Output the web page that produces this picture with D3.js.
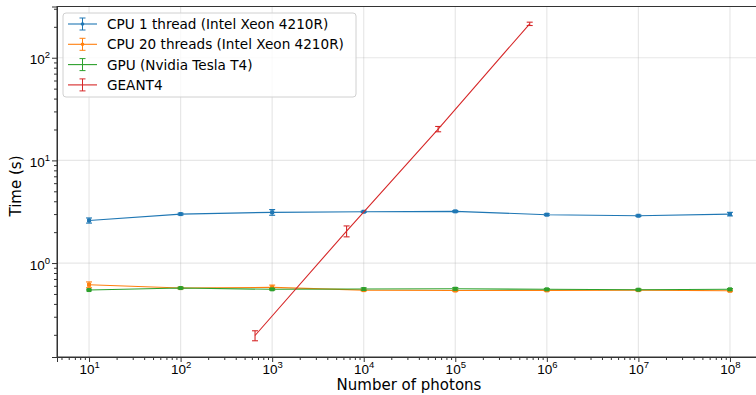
<!doctype html>
<html>
<head>
<script src="https://cdn.jsdelivr.net/npm/d3@7"></script>
<style>
  body { margin: 0; background: white; }
  svg { font-family: 'DejaVu Sans', sans-serif; }
  .grid line { stroke: #b0b0b0; stroke-opacity: 0.3; }
</style>
</head>
<body>
<script>
// photon counts
var photons = [1e1, 1e2, 1e3, 1e4, 1e5, 1e6, 1e7, 1e8];
var geantPhotons = [650, 6500, 65000, 650000];

var cpu1 = [2.6, 3.0, 3.12, 3.16, 3.19, 2.96, 2.89, 3.0];
var cpu1Err = [0.15, 0.06, 0.2, 0.05, 0.06, 0.06, 0.05, 0.12];
var cpu20 = [0.615, 0.571, 0.58, 0.545, 0.54, 0.542, 0.545, 0.537];
var cpu20Err = [0.04, 0.01, 0.03, 0.01, 0.01, 0.01, 0.01, 0.01];
var gpu = [0.546, 0.571, 0.555, 0.558, 0.562, 0.555, 0.55, 0.555];
var gpuErr = [0.01, 0.01, 0.01, 0.015, 0.015, 0.01, 0.01, 0.01];
var geant = [0.197, 2.05, 20.2, 214];
var geantErr = [0.022, 0.25, 1.2, 8];

var series = [
  {name: "CPU 1 thread (Intel Xeon 4210R)", color: "#1f77b4", x: photons, y: cpu1, e: cpu1Err, marker: true},
  {name: "CPU 20 threads (Intel Xeon 4210R)", color: "#ff7f0e", x: photons, y: cpu20, e: cpu20Err, marker: true},
  {name: "GPU (Nvidia Tesla T4)", color: "#2ca02c", x: photons, y: gpu, e: gpuErr, marker: true},
  {name: "GEANT4", color: "#d62728", x: geantPhotons, y: geant, e: geantErr, marker: false}
];

var width = 756, height = 395;
var pLeft = 57, pRight = 762, pTop = 6.5, pBottom = 357;

var svg = d3.select("body").append("svg")
  .attr("width", width).attr("height", height);

var x = d3.scaleLog().domain([Math.pow(10, 0.65), Math.pow(10, 8.35)]).range([pLeft, pRight]);
var y = d3.scaleLog().domain([Math.pow(10, -0.915), Math.pow(10, 2.499)]).range([pBottom, pTop]);

var xMajor = d3.range(1, 9).map(function(p) { return Math.pow(10, p); });
var yMajor = [1, 10, 100];

// grid
var grid = svg.append("g").attr("class", "grid");
grid.selectAll("line.gx").data(xMajor).enter().append("line")
  .attr("x1", function(d) { return x(d); }).attr("x2", function(d) { return x(d); })
  .attr("y1", pTop).attr("y2", pBottom).attr("stroke-width", 1.2);
grid.selectAll("line.gy").data(yMajor).enter().append("line")
  .attr("y1", function(d) { return y(d); }).attr("y2", function(d) { return y(d); })
  .attr("x1", pLeft).attr("x2", pRight).attr("stroke-width", 1.2);

// minor ticks
var xMinor = [];
for (var p = 0; p <= 8; p++) for (var m = 2; m <= 9; m++) {
  var v = m * Math.pow(10, p);
  if (x(v) > pLeft && x(v) < pRight) xMinor.push(v);
}
var yMinor = [];
for (var p = -1; p <= 2; p++) for (var m = 2; m <= 9; m++) {
  var v = m * Math.pow(10, p);
  if (y(v) < pBottom && y(v) > pTop) yMinor.push(v);
}

function supLabel(sel, exp) {
  sel.text("10").append("tspan").attr("dy", -6).attr("font-size", 9.5).text(exp);
}

var xAxis = svg.append("g").attr("transform", "translate(0," + pBottom + ")");
xAxis.call(d3.axisBottom(x).tickValues(xMajor).tickSize(5).tickFormat(""));
xAxis.selectAll(".tick").each(function(d) {
  d3.select(this).select("text").attr("y", 0).attr("dy", 0)
    .attr("transform", "translate(0,17)")
    .attr("font-size", 13.5).attr("fill", "black")
    .call(supLabel, Math.round(Math.log10(d)));
});
svg.append("g").attr("transform", "translate(0," + pBottom + ")")
  .call(d3.axisBottom(x).tickValues(xMinor).tickSize(3).tickFormat(""))
  .select(".domain").remove();

var yAxis = svg.append("g").attr("transform", "translate(" + pLeft + ",0)");
yAxis.call(d3.axisLeft(y).tickValues(yMajor).tickSize(5).tickFormat(""));
yAxis.selectAll(".tick").each(function(d) {
  d3.select(this).select("text").attr("x", -7).attr("dy", "0.45em")
    .attr("font-size", 13.5).attr("fill", "black")
    .call(supLabel, Math.round(Math.log10(d)));
});
svg.append("g").attr("transform", "translate(" + pLeft + ",0)")
  .call(d3.axisLeft(y).tickValues(yMinor).tickSize(3).tickFormat(""))
  .select(".domain").remove();

svg.selectAll(".domain").attr("stroke", "#333");
svg.selectAll(".tick line").attr("stroke", "#333");

// frame
svg.append("rect").attr("x", pLeft).attr("y", pTop)
  .attr("width", pRight - pLeft).attr("height", pBottom - pTop)
  .attr("fill", "none").attr("stroke", "#333").attr("stroke-width", 1);

// data
var line = d3.line().x(function(d) { return x(d[0]); }).y(function(d) { return y(d[1]); });

series.forEach(function(s) {
  var pts = s.x.map(function(v, i) { return [v, s.y[i], s.e[i]]; });
  var g = svg.append("g");
  g.append("path").datum(pts).attr("d", line)
    .attr("fill", "none").attr("stroke", s.color).attr("stroke-width", 1.1);
  var eb = g.selectAll("g.eb").data(pts).enter().append("g");
  eb.append("line")
    .attr("x1", function(d) { return x(d[0]); }).attr("x2", function(d) { return x(d[0]); })
    .attr("y1", function(d) { return y(d[1] - d[2]); }).attr("y2", function(d) { return y(d[1] + d[2]); })
    .attr("stroke", s.color).attr("stroke-width", 1.1);
  [-1, 1].forEach(function(sign) {
    eb.append("line")
      .attr("x1", function(d) { return x(d[0]) - 3; }).attr("x2", function(d) { return x(d[0]) + 3; })
      .attr("y1", function(d) { return y(d[1] + sign * d[2]); })
      .attr("y2", function(d) { return y(d[1] + sign * d[2]); })
      .attr("stroke", s.color).attr("stroke-width", 1.1);
  });
  if (s.marker) {
    eb.append("rect")
      .attr("x", function(d) { return x(d[0]) - 2; }).attr("y", function(d) { return y(d[1]) - 2; })
      .attr("width", 4).attr("height", 4).attr("fill", s.color);
  }
});

// legend
var lg = svg.append("g").attr("transform", "translate(63,13)");
lg.append("rect").attr("width", 293).attr("height", 84).attr("rx", 3)
  .attr("fill", "white").attr("fill-opacity", 0.8).attr("stroke", "#d0d0d0");
series.forEach(function(s, i) {
  var cy = 11 + i * 20.3;
  var it = lg.append("g").attr("transform", "translate(0," + cy + ")");
  it.append("line").attr("x1", 5).attr("x2", 34).attr("stroke", s.color).attr("stroke-width", 1.1);
  it.append("line").attr("x1", 19.5).attr("x2", 19.5).attr("y1", -6).attr("y2", 6).attr("stroke", s.color);
  it.append("line").attr("x1", 16.5).attr("x2", 22.5).attr("y1", -6).attr("y2", -6).attr("stroke", s.color);
  it.append("line").attr("x1", 16.5).attr("x2", 22.5).attr("y1", 6).attr("y2", 6).attr("stroke", s.color);
  if (i < 2) it.append("circle").attr("cx", 19.5).attr("r", 1.8).attr("fill", s.color);
  it.append("text").attr("x", 44).attr("dy", "0.36em").attr("font-size", 13.6).text(s.name);
});

// axis labels
svg.append("text").attr("x", 409).attr("y", 390)
  .attr("text-anchor", "middle").attr("font-size", 15).text("Number of photons");
svg.append("text").attr("transform", "translate(21,186) rotate(-90)")
  .attr("text-anchor", "middle").attr("font-size", 15).text("Time (s)");
</script>
</body>
</html>
